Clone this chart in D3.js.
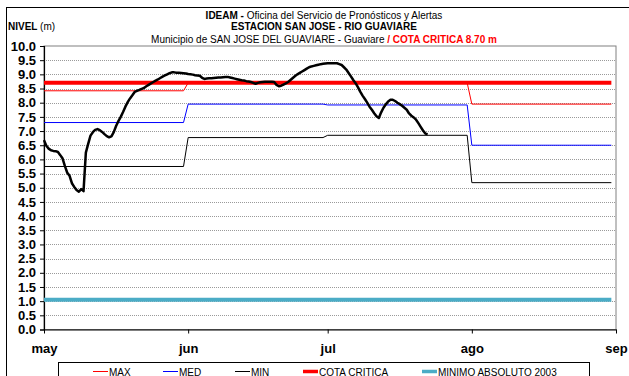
<!DOCTYPE html>
<html>
<head>
<meta charset="utf-8">
<script src="https://cdn.jsdelivr.net/npm/d3@7"></script>
<style>
  html, body { margin: 0; padding: 0; background: #fff; }
  svg { display: block; font-family: "Liberation Sans", Arial, sans-serif; }
</style>
</head>
<body>
<svg id="chart" width="629" height="376"></svg>
<script>
// Monthly reference levels (m), one value per month May..Aug
const months = ["2010-05-01", "2010-06-01", "2010-07-01", "2010-08-01"];
const maxLevels = [8.42, 8.70, 8.70, 7.95];
const medLevels = [7.30, 7.95, 7.92, 6.50];
const minLevels = [5.75, 6.77, 6.85, 5.18];

const cotaCritica = 8.70;
const minimoAbsoluto2003 = 1.05;

// Observed river level, one reading every 12 hours from 1 May
const obsStart = "2010-05-01T00:00";
const obsStepHours = 12;
const observed = [
  6.68, 6.48, 6.38, 6.32, 6.30, 6.29, 6.26, 6.15, 6.03, 5.76,
  5.53, 5.42, 5.16, 5.03, 4.92, 4.86, 4.95, 4.88, 6.24, 6.55,
  6.84, 6.96, 7.04, 7.07, 7.03, 6.97, 6.89, 6.82, 6.78, 6.81,
  6.96, 7.18, 7.35, 7.50, 7.67, 7.86, 8.02, 8.15, 8.26, 8.38,
  8.42, 8.45, 8.49, 8.52, 8.58, 8.63, 8.68, 8.73, 8.78, 8.82,
  8.87, 8.92, 8.96, 9.00, 9.04, 9.07, 9.07, 9.06, 9.06, 9.05,
  9.04, 9.03, 9.01, 9.00, 8.99, 8.97, 8.96, 8.95, 8.88, 8.84,
  8.85, 8.86, 8.86, 8.87, 8.88, 8.89, 8.89, 8.90, 8.91, 8.91,
  8.89, 8.87, 8.85, 8.83, 8.81, 8.79, 8.78, 8.76, 8.75, 8.73,
  8.70, 8.67, 8.70, 8.72, 8.73, 8.74, 8.74, 8.74, 8.74, 8.73,
  8.63, 8.58, 8.60, 8.64, 8.68, 8.73, 8.80, 8.87, 8.94, 9.00,
  9.05, 9.10, 9.15, 9.20, 9.25, 9.28, 9.30, 9.32, 9.34, 9.36,
  9.37, 9.38, 9.39, 9.39, 9.39, 9.39, 9.39, 9.36, 9.33, 9.25,
  9.17, 9.05, 8.93, 8.80, 8.69, 8.55, 8.39, 8.25, 8.13, 8.00,
  7.86, 7.75, 7.63, 7.52, 7.46, 7.66, 7.82, 7.94, 8.04, 8.10,
  8.10, 8.06, 8.00, 7.95, 7.89, 7.82, 7.75, 7.62, 7.54, 7.48,
  7.40, 7.28, 7.15, 7.02, 6.91, 6.89
];

// Axis ticks
const yTicks = d3.range(0, 10.01, 0.5);
const monthTicks = ["2010-05-01", "2010-06-01", "2010-07-01", "2010-08-01", "2010-09-01"];
const monthNames = ["may", "jun", "jul", "ago", "sep"];

// Legend entries
const legendLabels = ["MAX", "MED", "MIN", "COTA CRITICA", "MINIMO ABSOLUTO 2003"];
const legendColors = ["#ff0000", "#0000ff", "#000000", "#ff0000", "#4bacc6"];
const legendWidths = [1, 1, 1, 3.5, 3.5];
const legendX = [93, 163, 235, 303, 422];

const parse = d3.timeParse("%Y-%m-%d");
const parseT = d3.timeParse("%Y-%m-%dT%H:%M");

const svg = d3.select("#chart");
const plot = { left: 44, right: 616, top: 46, bottom: 329.5 };

const x = d3.scaleTime()
  .domain([parse("2010-05-01"), parse("2010-09-01")])
  .range([plot.left, plot.right]);
const y = d3.scaleLinear().domain([0, 10]).range([plot.bottom, plot.top]);

// Outer frame
svg.append("rect")
  .attr("x", 6.5).attr("y", 7.5).attr("width", 640).attr("height", 400)
  .attr("fill", "none").attr("stroke", "#000").attr("stroke-width", 1);

// Titles
const title = svg.append("g").attr("text-anchor", "middle").attr("font-size", 10).attr("fill", "#000");
const t1 = title.append("text").attr("x", 324).attr("y", 18.5);
t1.append("tspan").attr("font-weight", "bold").text("IDEAM - ");
t1.append("tspan").text("Oficina del Servicio de Pronósticos y Alertas");
title.append("text").attr("x", 324).attr("y", 30).attr("font-weight", "bold")
  .text("ESTACION SAN JOSE - RIO GUAVIARE");
const t3 = title.append("text").attr("x", 324).attr("y", 43);
t3.append("tspan").text("Municipio de SAN JOSE DEL GUAVIARE - Guaviare ");
t3.append("tspan").attr("fill", "#ff0000").attr("font-weight", "bold").text(" /  COTA CRITICA 8.70 m");

const nivel = svg.append("text").attr("x", 8).attr("y", 30).attr("font-size", 10);
nivel.append("tspan").attr("font-weight", "bold").text("NIVEL ");
nivel.append("tspan").text("(m)");

// Plot frame
svg.append("rect")
  .attr("x", plot.left).attr("y", plot.top)
  .attr("width", plot.right - plot.left).attr("height", plot.bottom - plot.top)
  .attr("fill", "#fff").attr("stroke", "#808080").attr("stroke-width", 1);

// Gridlines
svg.append("g").selectAll("line")
  .data(yTicks.filter(v => v > 0 && v < 10))
  .join("line")
  .attr("x1", plot.left).attr("x2", plot.right)
  .attr("y1", d => Math.round(y(d)) + 0.5).attr("y2", d => Math.round(y(d)) + 0.5)
  .attr("stroke", "#9a9a9a").attr("stroke-width", 1).attr("stroke-dasharray", "1,1");

// Axes
const yAxis = d3.axisLeft(y).tickValues(yTicks).tickFormat(d3.format(".1f")).tickSize(4).tickPadding(4);
const gy = svg.append("g").attr("transform", `translate(${plot.left},0)`).call(yAxis);
gy.selectAll("text").attr("font-size", 13).attr("font-weight", "bold").attr("font-family", "Liberation Sans, Arial, sans-serif").attr("fill", "#000");
gy.selectAll("line, path").attr("stroke", "#000");
gy.select("path").attr("stroke-width", 1.2);

const xAxis = d3.axisBottom(x)
  .tickValues(monthTicks.map(parse))
  .tickFormat((d, i) => monthNames[i])
  .tickSize(4).tickSizeOuter(0).tickPadding(10);
const gx = svg.append("g").attr("transform", `translate(0,${plot.bottom})`).call(xAxis);
gx.selectAll("text").attr("font-size", 13).attr("font-weight", "bold").attr("font-family", "Liberation Sans, Arial, sans-serif").attr("fill", "#000");
gx.selectAll("line, path").attr("stroke", "#000");
gx.select("path").attr("stroke-width", 1.2);

// Monthly step series: constant through each month
function monthSteps(values) {
  const pts = [];
  months.forEach((m, i) => {
    const start = parse(m);
    const end = d3.timeDay.offset(d3.timeMonth.offset(start, 1), -1);
    pts.push([start, values[i]], [end, values[i]]);
  });
  return pts;
}
const line = d3.line().x(d => x(d[0])).y(d => y(d[1]));
const firstDay = parse(months[0]);
const lastDay = d3.timeDay.offset(d3.timeMonth.offset(parse(months[months.length - 1]), 1), -1);

// Minimum absolute 2003
svg.append("path")
  .datum([[firstDay, minimoAbsoluto2003], [lastDay, minimoAbsoluto2003]])
  .attr("d", line).attr("fill", "none").attr("stroke", "#4bacc6").attr("stroke-width", 4);

svg.append("path").datum(monthSteps(minLevels)).attr("d", line)
  .attr("fill", "none").attr("stroke", "#000").attr("stroke-width", 1);
svg.append("path").datum(monthSteps(medLevels)).attr("d", line)
  .attr("fill", "none").attr("stroke", "#0000ff").attr("stroke-width", 1);
svg.append("path").datum(monthSteps(maxLevels)).attr("d", line)
  .attr("fill", "none").attr("stroke", "#ff0000").attr("stroke-width", 1);

// Critical level
svg.append("path")
  .datum([[firstDay, cotaCritica], [lastDay, cotaCritica]])
  .attr("d", line).attr("fill", "none").attr("stroke", "#ff0000").attr("stroke-width", 4);

// Observed level
const t0 = parseT(obsStart);
const obsPts = observed.map((v, i) => [d3.timeHour.offset(t0, i * obsStepHours), v]);
svg.append("path").datum(obsPts).attr("d", line)
  .attr("fill", "none").attr("stroke", "#000").attr("stroke-width", 2.5)
  .attr("stroke-linejoin", "round");

// Legend
const lg = svg.append("g");
lg.append("rect").attr("x", 58.5).attr("y", 362.5).attr("width", 531).attr("height", 30)
  .attr("fill", "#fff").attr("stroke", "#000").attr("stroke-width", 1);
legendLabels.forEach((lab, i) => {
  lg.append("line").attr("x1", legendX[i]).attr("x2", legendX[i] + 15)
    .attr("y1", 371.5).attr("y2", 371.5)
    .attr("stroke", legendColors[i]).attr("stroke-width", legendWidths[i]);
  lg.append("text").attr("x", legendX[i] + 16).attr("y", 375.5)
    .attr("font-size", 10).text(lab);
});
</script>
</body>
</html>
